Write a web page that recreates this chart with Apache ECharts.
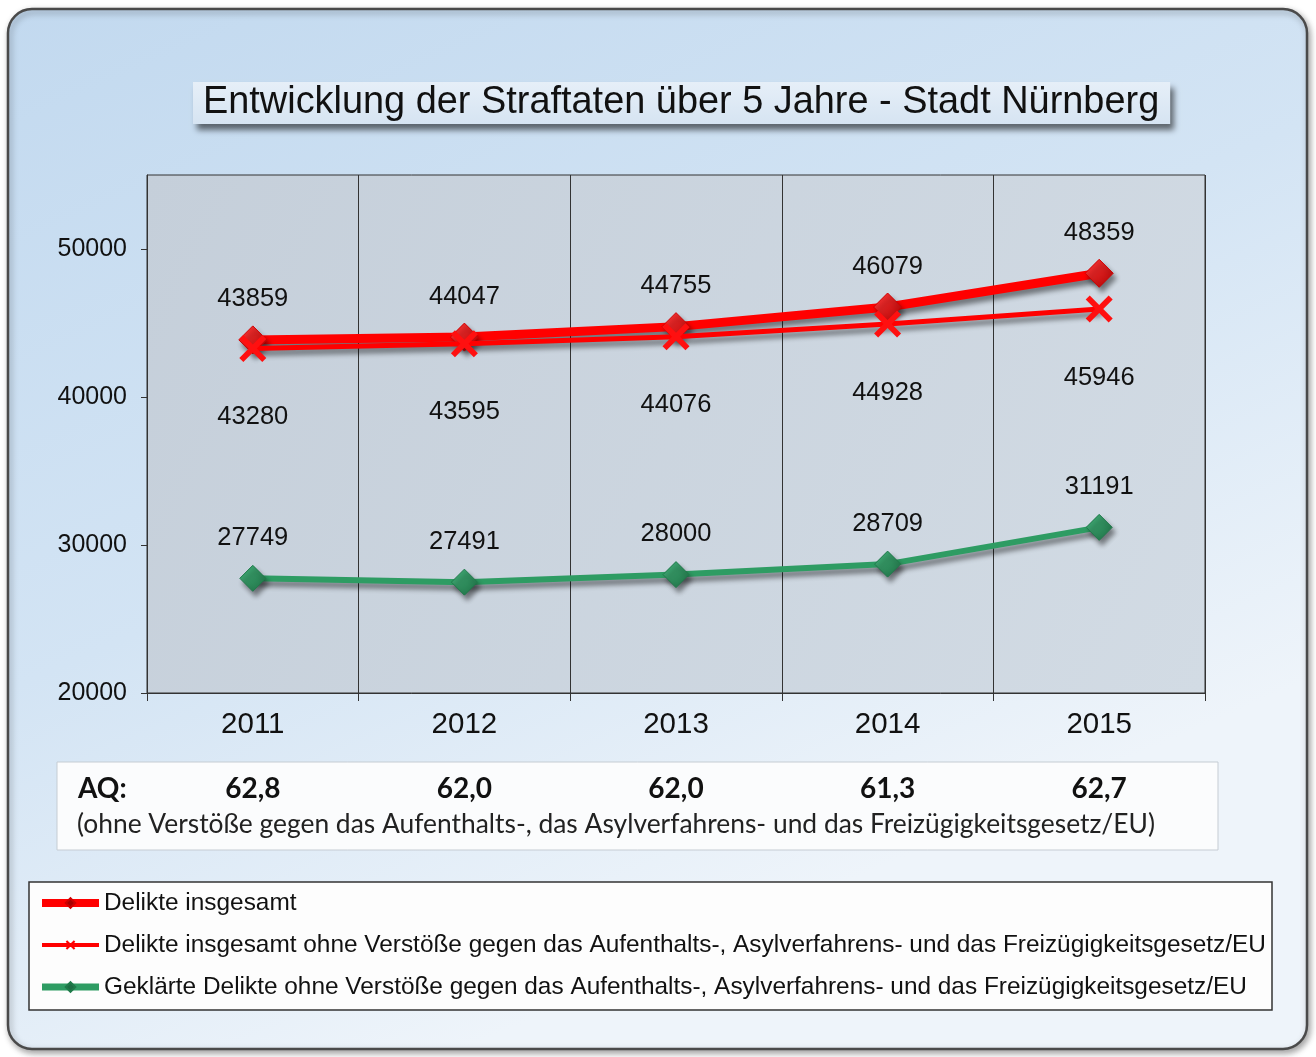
<!DOCTYPE html>
<html>
<head>
<meta charset="utf-8">
<title>Entwicklung der Straftaten - Stadt Nürnberg</title>
<script src="https://cdn.jsdelivr.net/npm/echarts@6/dist/echarts.min.js"></script>
<style>
    html, body { margin: 0; padding: 0; background: #fff; }
    #chart { width: 1316px; height: 1057px; }
</style>
</head>
<body>
<div id="chart"></div>
<script>
const years = ['2011', '2012', '2013', '2014', '2015'];
const deliktGesamt = [43859, 44047, 44755, 46079, 48359];
const deliktOhne = [43280, 43595, 44076, 44928, 45946];
const geklaert = [27749, 27491, 28000, 28709, 31191];
const aqValues = ['62,8', '62,0', '62,0', '61,3', '62,7'];
const yTicks = [20000, 30000, 40000, 50000];

const seriesNames = [
    'Delikte insgesamt',
    'Delikte insgesamt ohne Verstöße gegen das Aufenthalts-, Asylverfahrens- und das Freizügigkeitsgesetz/EU',
    'Geklärte Delikte ohne Verstöße gegen das Aufenthalts-, Asylverfahrens- und das Freizügigkeitsgesetz/EU'
];
const aqNote = '(ohne Verstöße gegen das Aufenthalts-, das Asylverfahrens- und das Freizügigkeitsgesetz/EU)';

const FONT = '"Liberation Sans", Arial, sans-serif';
const CROSS = 'path://M0,1.5L1.5,0L5,3.5L8.5,0L10,1.5L6.5,5L10,8.5L8.5,10L5,6.5L1.5,10L0,8.5L3.5,5Z';
const RED = '#ff0000';
const GREEN = '#2e9c63';

const lineShadow = {
    shadowColor: 'rgba(0,0,0,0.45)',
    shadowBlur: 5,
    shadowOffsetX: 3,
    shadowOffsetY: 5
};

const diamondFill = (light, dark) => new echarts.graphic.LinearGradient(0, 0, 1, 1, [
    { offset: 0, color: light },
    { offset: 1, color: dark }
]);

const dataLabel = (position, distance) => ({
    show: true,
    position,
    distance,
    color: '#111',
    fontFamily: FONT,
    fontSize: 25.5
});

const chart = echarts.init(document.getElementById('chart'));

const option = {
    animation: false,
    backgroundColor: '#ffffff',
    title: {
        text: 'Entwicklung der Straftaten über 5 Jahre - Stadt Nürnberg',
        left: 193,
        top: 82,
        padding: [2, 11, 2, 10],
        backgroundColor: new echarts.graphic.LinearGradient(0, 0, 0, 1, [
            { offset: 0, color: '#e6eff8' },
            { offset: 1, color: '#d6e4f2' }
        ]),
        shadowColor: 'rgba(0,0,0,0.55)',
        shadowBlur: 6,
        shadowOffsetX: 4,
        shadowOffsetY: 6,
        textStyle: {
            fontFamily: FONT,
            fontSize: 37.9,
            lineHeight: 38,
            fontWeight: 'normal',
            color: '#111'
        }
    },
    legend: {
        orient: 'vertical',
        left: 33,
        top: 884,
        itemWidth: 57,
        itemHeight: 12,
        itemGap: 14,
        data: [
            { name: seriesNames[0], lineStyle: { width: 8, color: RED }, itemStyle: { color: '#a80000' } },
            { name: seriesNames[1], lineStyle: { width: 4, color: RED }, itemStyle: { color: RED } },
            { name: seriesNames[2], lineStyle: { width: 7, color: GREEN }, itemStyle: { color: '#1c6e43' } }
        ],
        textStyle: {
            fontFamily: FONT,
            fontSize: 24.4,
            color: '#111',
            lineHeight: 28
        }
    },
    grid: {
        left: 147,
        top: 175,
        right: 111,
        bottom: 364,
        show: true,
        outerBoundsMode: 'none',
        borderColor: '#333',
        borderWidth: 1,
        backgroundColor: new echarts.graphic.LinearGradient(0, 0, 1, 1, [
            { offset: 0, color: '#c5cfda' },
            { offset: 1, color: '#d2dbe4' }
        ])
    },
    xAxis: {
        type: 'category',
        data: years,
        boundaryGap: true,
        axisLine: { lineStyle: { color: '#333', width: 1 } },
        axisTick: { show: true, length: 8, lineStyle: { color: '#333' } },
        splitLine: { show: true, lineStyle: { color: '#333', width: 1 } },
        axisLabel: {
            margin: 17,
            color: '#111',
            fontFamily: FONT,
            fontSize: 29.5
        }
    },
    yAxis: {
        type: 'value',
        min: 20000,
        max: 55000,
        interval: 10000,
        axisLine: { show: true, lineStyle: { color: '#333', width: 1 } },
        axisTick: { show: true, length: 6, customValues: yTicks, lineStyle: { color: '#333' } },
        splitLine: { show: false },
        axisLabel: {
            margin: 20,
            customValues: yTicks,
            formatter: v => (yTicks.indexOf(v) >= 0 ? String(v) : ''),
            color: '#111',
            fontFamily: FONT,
            fontSize: 25
        }
    },
    series: [
        {
            name: seriesNames[0],
            type: 'line',
            data: deliktGesamt,
            symbol: 'diamond',
            symbolSize: 28,
            z: 3,
            lineStyle: { color: RED, width: 9, ...lineShadow },
            itemStyle: {
                color: diamondFill('#ff3b3b', '#b00000'),
                borderColor: '#d00000',
                borderWidth: 1,
                ...lineShadow
            },
            label: dataLabel('top', 13)
        },
        {
            name: seriesNames[1],
            type: 'line',
            data: deliktOhne,
            symbol: CROSS,
            symbolSize: 27,
            z: 4,
            lineStyle: { color: RED, width: 5, ...lineShadow },
            itemStyle: { color: '#ff1010' },
            label: dataLabel('bottom', 42)
        },
        {
            name: seriesNames[2],
            type: 'line',
            data: geklaert,
            symbol: 'diamond',
            symbolSize: 26,
            lineStyle: { color: GREEN, width: 6, ...lineShadow },
            itemStyle: {
                color: diamondFill('#45b07a', '#1c6e43'),
                borderColor: '#1f7a4a',
                borderWidth: 1,
                ...lineShadow
            },
            label: dataLabel('top', 14)
        }
    ]
};

chart.setOption(option);

// Rahmen, AQ-Kasten und Legendenkasten
const AQ_FONT = 'Lato, "Open Sans", sans-serif';
const aqTexts = aqValues.map((v, i) => ({
    type: 'text',
    x: chart.convertToPixel({ xAxisIndex: 0 }, years[i]),
    y: 789,
    style: {
        text: v,
        fill: '#111',
        font: 'bold 28px ' + AQ_FONT,
        textAlign: 'center',
        textVerticalAlign: 'middle'
    },
    z: 2
}));

chart.setOption({
    graphic: [
        {
            type: 'rect',
            shape: { x: 8, y: 9, width: 1299, height: 1040, r: 24 },
            style: {
                fill: new echarts.graphic.LinearGradient(0, 0, 0.35, 1, [
                    { offset: 0, color: '#c2d9ef' },
                    { offset: 0.55, color: '#d3e4f4' },
                    { offset: 1, color: '#eef4fa' }
                ]),
                stroke: '#4a4a4a',
                lineWidth: 2.5,
                shadowColor: 'rgba(0,0,0,0.35)',
                shadowBlur: 6,
                shadowOffsetX: 2,
                shadowOffsetY: 3
            },
            z: -20
        },
        {
            type: 'rect',
            shape: { x: 57, y: 762, width: 1161, height: 88 },
            style: { fill: '#fbfcfd', stroke: '#c5ccd3', lineWidth: 1 },
            z: 1
        },
        {
            type: 'text',
            x: 78,
            y: 789,
            style: {
                text: 'AQ:',
                fill: '#111',
                font: 'bold 28px ' + AQ_FONT,
                textVerticalAlign: 'middle'
            },
            z: 2
        },
        ...aqTexts,
        {
            type: 'text',
            x: 77,
            y: 824,
            style: {
                text: aqNote,
                fill: '#222',
                font: '26.4px ' + AQ_FONT,
                textVerticalAlign: 'middle'
            },
            z: 2
        },
        {
            type: 'rect',
            shape: { x: 29, y: 882, width: 1243, height: 128 },
            style: { fill: '#fdfdfd', stroke: '#333', lineWidth: 1.5 },
            z: 1
        }
    ]
});
</script>
</body>
</html>
